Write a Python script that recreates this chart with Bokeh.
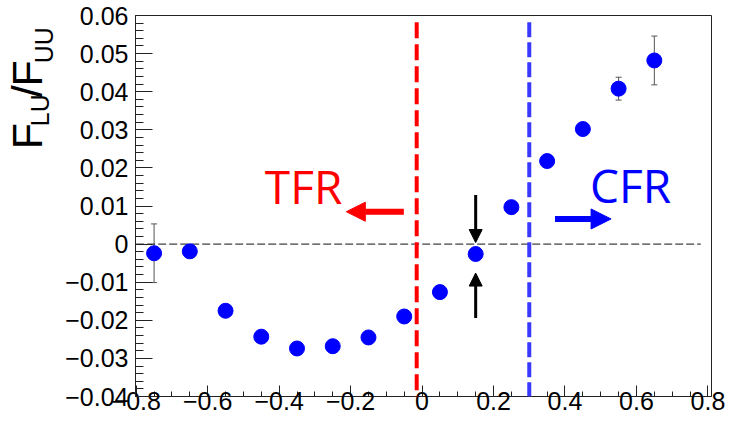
from bokeh.plotting import figure
from bokeh.layouts import row
from bokeh.models import (ColumnDataSource, Whisker, TeeHead, Arrow, NormalHead,
                          Label, FixedTicker, Range1d)
from bokeh.core.properties import value
from bokeh.embed import file_html
from bokeh.resources import INLINE
import math

# ---------------- data ----------------
x_centers = [-0.75, -0.65, -0.55, -0.45, -0.35, -0.25, -0.15, -0.05,
             0.05, 0.15, 0.25, 0.35, 0.45, 0.55, 0.65]
ratio = [-0.0024, -0.0019, -0.0175, -0.0243, -0.0274, -0.0268, -0.0245, -0.0190,
         -0.0126, -0.0026, 0.0097, 0.0218, 0.0302, 0.0408, 0.0482]
ratio_err = [0.0077, 0.0012, 0.0010, 0.0010, 0.0010, 0.0010, 0.0010, 0.0010,
             0.0010, 0.0010, 0.0012, 0.0013, 0.0015, 0.0030, 0.0064]

x_ticks = [-0.8, -0.6, -0.4, -0.2, 0.0, 0.2, 0.4, 0.6, 0.8]
x_tick_labels = ["\u22120.8", "\u22120.6", "\u22120.4", "\u22120.2", "0", "0.2", "0.4", "0.6", "0.8"]
y_ticks = [-0.04, -0.03, -0.02, -0.01, 0.0, 0.01, 0.02, 0.03, 0.04, 0.05, 0.06]
y_tick_labels = ["\u22120.04", "\u22120.03", "\u22120.02", "\u22120.01", "0",
                 "0.01", "0.02", "0.03", "0.04", "0.05", "0.06"]
x_minor = [round(-0.8 + 0.05 * i, 3) for i in range(33)]
y_minor = [round(-0.04 + 0.002 * i, 4) for i in range(51)]

# y-axis title pieces: F_{LU}/F_{UU}
title_parts = ["F", "LU", "/", "F", "UU"]
title_sizes = ["43px", "25px", "43px", "43px", "25px"]

tfr_boundary = -0.015
cfr_boundary = 0.30
zero_line_x = [-0.8, 0.78]
boundary_y = [0.0582, -0.0434]

W, H = 730, 427
TITLE_W = 60

# ---------------- title strip (left) ----------------
t = figure(width=TITLE_W, height=H, x_range=Range1d(0, TITLE_W), y_range=Range1d(0, H),
           x_axis_type=None, y_axis_type=None, output_backend="svg",
           toolbar_location=None, min_border_left=0, min_border_right=0,
           min_border_top=0, min_border_bottom=0)
t.grid.visible = False
t.outline_line_color = None
t.background_fill_color = "white"
t.border_fill_color = "white"
# anchor positions in strip pixels (x) and page pixels from top (y)
title_px_x = [26, 39, 26, 26, 43]
title_px_y = [150, 124.0, 91.5, 79.5, 53.5]
tsrc = ColumnDataSource(dict(x=title_px_x, y=[H - v for v in title_px_y],
                             text=title_parts, size=title_sizes))
t.text(x="x", y="y", text="text", source=tsrc, angle=math.pi / 2,
       text_font=value("Liberation Sans"), text_font_size="size",
       text_color="black", text_align="left", text_baseline="alphabetic")

# ---------------- main figure ----------------
p = figure(width=W - TITLE_W, height=H,
           x_range=Range1d(-0.802, 0.81), y_range=Range1d(-0.04, 0.06),
           output_backend="svg", toolbar_location=None,
           min_border_left=135 - TITLE_W, min_border_right=19,
           min_border_top=15, min_border_bottom=31)
p.grid.visible = False
p.outline_line_color = "#222222"
p.outline_line_width = 1
p.background_fill_color = "white"
p.border_fill_color = "white"

xa = p.xaxis[0]
xa.ticker = FixedTicker(ticks=x_ticks, minor_ticks=x_minor)
xa.major_label_overrides = dict(zip(x_ticks, x_tick_labels))
xa.major_tick_in = 11
xa.major_tick_out = 0
xa.minor_tick_in = 5
xa.minor_tick_out = 0
xa.major_label_standoff = -5
xa.major_label_text_font = "Liberation Sans"
xa.major_label_text_font_size = "25px"
xa.major_label_text_color = "black"
xa.axis_line_color = "#222222"
xa.major_tick_line_color = "#222222"
xa.minor_tick_line_color = "#222222"

ya = p.yaxis[0]
ya.ticker = FixedTicker(ticks=y_ticks, minor_ticks=y_minor)
ya.major_label_overrides = dict(zip(y_ticks, y_tick_labels))
ya.major_tick_in = 17
ya.major_tick_out = 0
ya.minor_tick_in = 8
ya.minor_tick_out = 0
ya.major_label_standoff = 7
ya.major_label_text_font = "Liberation Sans"
ya.major_label_text_font_size = "25px"
ya.major_label_text_color = "black"
ya.axis_line_color = "#222222"
ya.major_tick_line_color = "#222222"
ya.minor_tick_line_color = "#222222"

# zero reference line
p.line(zero_line_x, [0, 0], line_color="#111111", line_width=1, line_dash="8 3")

# region boundaries
p.add_layout(Arrow(end=None, x_start=tfr_boundary, x_end=tfr_boundary,
                   y_start=boundary_y[0], y_end=boundary_y[1],
                   line_color="#ff0000", line_width=4, line_dash="16 6"))
p.add_layout(Arrow(end=None, x_start=cfr_boundary, x_end=cfr_boundary,
                   y_start=boundary_y[0], y_end=boundary_y[1],
                   line_color="#3838ff", line_width=4, line_dash="15 5"))

# error bars + points
src = ColumnDataSource(dict(
    x=x_centers, y=ratio,
    lower=[v - e for v, e in zip(ratio, ratio_err)],
    upper=[v + e for v, e in zip(ratio, ratio_err)]))
wh = Whisker(base="x", lower="lower", upper="upper", source=src,
             line_color="#555555", line_width=1,
             upper_head=TeeHead(size=6, line_color="#555555", line_width=1),
             lower_head=TeeHead(size=6, line_color="#555555", line_width=1),
             level="underlay")
p.add_layout(wh)
p.scatter("x", "y", source=src, size=15, fill_color="#0000ff", line_color="#0000ff")

# arrows
p.add_layout(Arrow(end=NormalHead(size=19, fill_color="#ff0000", line_color="#ff0000", line_width=1),
                   x_start=-0.051, y_start=0.0085, x_end=-0.212, y_end=0.0085,
                   line_color="#ff0000", line_width=6))
p.add_layout(Arrow(end=NormalHead(size=20, fill_color="#0000ff", line_color="#0000ff", line_width=1),
                   x_start=0.372, y_start=0.0066, x_end=0.529, y_end=0.0066,
                   line_color="#0000ff", line_width=6))
p.add_layout(Arrow(end=NormalHead(size=13, fill_color="black", line_color="black", line_width=1),
                   x_start=0.15, y_start=0.0129, x_end=0.15, y_end=0.0004,
                   line_color="black", line_width=3))
p.add_layout(Arrow(end=NormalHead(size=13, fill_color="black", line_color="black", line_width=1),
                   x_start=0.15, y_start=-0.0194, x_end=0.15, y_end=-0.0076,
                   line_color="black", line_width=3))

# region texts
p.add_layout(Label(x=-0.44, y=0.0153, text="TFR", text_font="Open Sans",
                   text_font_size="46px", text_color="#ff0000",
                   text_align="left", text_baseline="alphabetic"))
p.add_layout(Label(x=0.47, y=0.0155, text="CFR", text_font="Open Sans",
                   text_font_size="46px", text_color="#0000ff",
                   text_align="left", text_baseline="alphabetic"))

layout = row(t, p, spacing=0)
open("out.html", "w").write(file_html(layout, INLINE))
